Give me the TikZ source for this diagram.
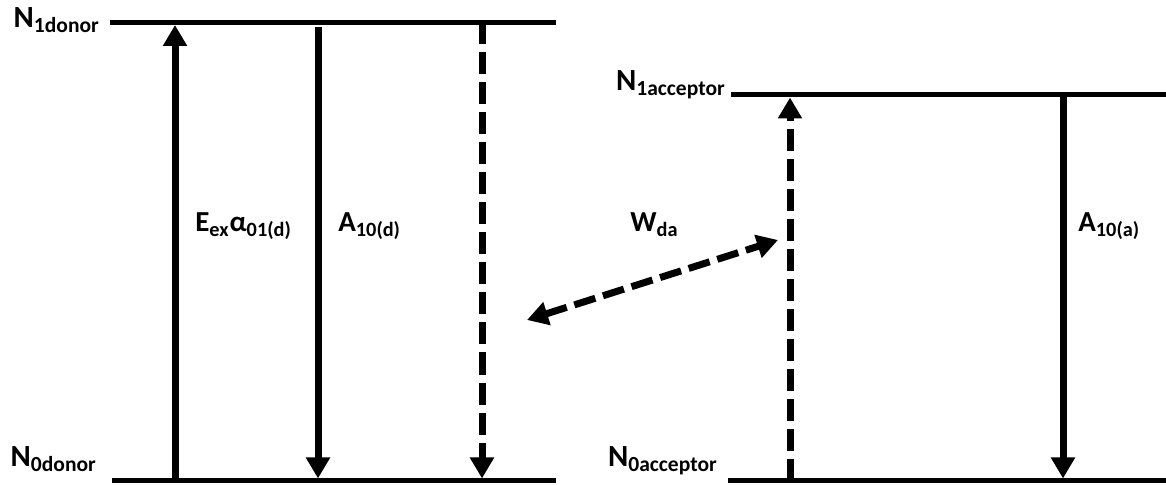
\documentclass[tikz,border=0pt]{standalone}
\usepackage{fontspec}
\setmainfont{Carlito}
\usepackage{tikz}
\usepackage{xcolor}
\usetikzlibrary{arrows.meta,positioning,calc}
\newcommand{\sbs}[1]{\textsubscript{#1}}
\tikzset{
  levelLine/.style={line width=0.1cm, draw=black},
  levelLabel/.style={font=\fontsize{17.5}{20}\selectfont\bfseries, inner sep=0pt, anchor=base east},
  rateArrow/.style={line width=0.14cm, -{Triangle[length=0.42cm,width=0.46cm]}},
  rateDashed/.style={rateArrow, dash pattern=on 0.44cm off 0.16cm},
  rateLabel/.style={font=\fontsize{16.5}{20}\selectfont\bfseries, inner sep=0pt, anchor=base west}
}

\begin{document}
\begin{tikzpicture}[x=1cm,y=1cm]
  \useasboundingbox (0,0) rectangle (23.32,9.7);
  % donor levels
  \coordinate (d1l) at (2.2,9.25);
  \coordinate (d1r) at (11.12,9.25);
  \coordinate (d0l) at (2.24,0.08);
  \coordinate (d0r) at (11.12,0.08);
  % acceptor levels
  \coordinate (a1l) at (14.62,7.8);
  \coordinate (a1r) at (23.32,7.8);
  \coordinate (a0l) at (14.56,0.08);
  \coordinate (a0r) at (23.32,0.08);
  \draw[levelLine] (d1l) -- (d1r);
  \draw[levelLine] (d0l) -- (d0r);
  \draw[levelLine] (a1l) -- (a1r);
  \draw[levelLine] (a0l) -- (a0r);
  \node[levelLabel] (d1lab) at ($(d1l)+(-0.2,-0.1)$) {N\sbs{1donor}};
  \node[levelLabel] (d0lab) at ($(d0l)+(-0.3,0.28)$) {N\sbs{0donor}};
  \node[levelLabel] (a1lab) at ($(a1l)+(-0.1,0.08)$) {N\sbs{1acceptor}};
  \node[levelLabel] (a0lab) at ($(a0l)+(-0.2,0.28)$) {N\sbs{0acceptor}};
  % transitions
  \coordinate (ex0) at (d0l -| 3.5,0);
  \coordinate (ex1) at ($(d1l -| 3.5,0)+(0,-0.05)$);
  \coordinate (em1) at ($(d1l -| 6.36,0)+(0,-0.1)$);
  \coordinate (em0) at ($(d0l -| 6.36,0)+(0,0.05)$);
  \coordinate (nr1) at (d1l -| 9.64,0);
  \coordinate (nr0) at ($(d0l -| 9.64,0)+(0,0.05)$);
  \coordinate (ac0) at (a0l -| 15.8,0);
  \coordinate (ac1) at ($(a1l -| 15.8,0)+(0,-0.05)$);
  \coordinate (ae1) at (a1l -| 21.26,0);
  \coordinate (ae0) at ($(a0l -| 21.26,0)+(0,0.05)$);
  \draw[rateArrow] (ex0) -- (ex1);
  \draw[rateArrow] (em1) -- (em0);
  \draw[rateDashed] (nr1) -- (nr0);
  \draw[rateDashed] (ac0) -- (ac1);
  \draw[rateArrow] (ae1) -- (ae0);
  \coordinate (wd) at (10.54,3.3);
  \coordinate (wa) at (15.56,4.9);
  \draw[rateDashed, {Triangle[length=0.42cm,width=0.46cm]}-{Triangle[length=0.42cm,width=0.46cm]}] (wd) -- (wa);
  % rates
  \node[rateLabel] (exlab) at (3.9,5.06) {E\sbs{ex}α\sbs{01(d)}};
  \node[rateLabel] (emlab) at (6.76,5.06) {A\sbs{10(d)}};
  \node[rateLabel] (wlab) at (12.6,5.06) {W\sbs{da}};
  \node[rateLabel] (aelab) at (21.56,5.06) {A\sbs{10(a)}};
\end{tikzpicture}
\end{document}
